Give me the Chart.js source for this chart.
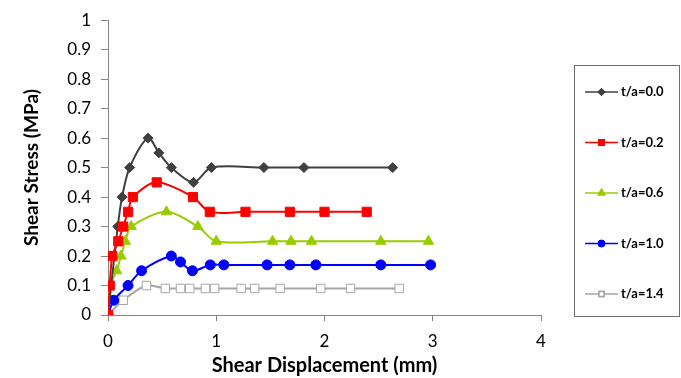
<!DOCTYPE html>
<html lang="en">
<head>
  <meta charset="UTF-8">
  <title>Shear Stress vs Shear Displacement</title>
  <script src="https://cdn.jsdelivr.net/npm/chart.js"></script>
  <style>
    html, body { margin: 0; padding: 0; background: #fff; }
    #wrap { width: 681px; height: 378px; }
  </style>
</head>
<body>
  <div id="wrap"><canvas id="shearChart" width="681" height="378"></canvas></div>

  <script>
    // series labels
    const seriesNames = ['t/a=0.0', 't/a=0.2', 't/a=0.6', 't/a=1.0', 't/a=1.4'];

    // shear displacement (mm) and shear stress (MPa)
    const disp00 = [0, 0.09, 0.13, 0.2, 0.37, 0.47, 0.585, 0.79, 0.955, 1.44, 1.81, 2.63];
    const stress00 = [0, 0.3, 0.4, 0.5, 0.6, 0.55, 0.5, 0.45, 0.5, 0.5, 0.5, 0.5];

    const disp02 = [0, 0.016, 0.04, 0.095, 0.14, 0.185, 0.23, 0.45, 0.785, 0.94, 1.27, 1.68, 2.0, 2.39];
    const stress02 = [0, 0.1, 0.2, 0.25, 0.3, 0.35, 0.4, 0.45, 0.4, 0.35, 0.35, 0.35, 0.35, 0.35];

    const disp06 = [0, 0.02, 0.08, 0.12, 0.16, 0.215, 0.54, 0.83, 1.0, 1.52, 1.69, 1.88, 2.52, 2.96];
    const stress06 = [0, 0.1, 0.15, 0.2, 0.25, 0.3, 0.35, 0.3, 0.25, 0.25, 0.25, 0.25, 0.25, 0.25];

    const disp10 = [0, 0.053, 0.185, 0.31, 0.585, 0.67, 0.78, 0.945, 1.07, 1.47, 1.68, 1.92, 2.52, 2.98];
    const stress10 = [0, 0.05, 0.1, 0.15, 0.2, 0.18, 0.15, 0.17, 0.17, 0.17, 0.17, 0.17, 0.17, 0.17];

    const disp14 = [0, 0.14, 0.355, 0.53, 0.67, 0.755, 0.9, 0.985, 1.23, 1.355, 1.59, 1.965, 2.24, 2.69];
    const stress14 = [0, 0.05, 0.1, 0.09, 0.09, 0.09, 0.09, 0.09, 0.09, 0.09, 0.09, 0.09, 0.09, 0.09];

    const xTicks = [0, 1, 2, 3, 4];
    const yTicks = [0, 0.1, 0.2, 0.3, 0.4, 0.5, 0.6, 0.7, 0.8, 0.9, 1];

    function toPoints(xs, ys) {
      return xs.map((x, i) => ({ x: x, y: ys[i] }));
    }

    const FONT = 'Lato, "Open Sans", sans-serif';
    const AXIS_GREY = '#868686';

    const styles = [
      { color: '#404040', fill: '#404040', point: 'rectRot', radius: 5 },
      { color: '#ff0000', fill: '#ff0000', point: 'rect', radius: 6.5 },
      { color: '#99cc00', fill: '#99cc00', point: 'triangle', radius: 6 },
      { color: '#0000ff', fill: '#0000ff', point: 'circle', radius: 5 },
      { color: '#a6a6a6', fill: '#ffffff', point: 'rect', radius: 6 }
    ];

    const allData = [
      toPoints(disp00, stress00),
      toPoints(disp02, stress02),
      toPoints(disp06, stress06),
      toPoints(disp10, stress10),
      toPoints(disp14, stress14)
    ];

    const datasets = allData.map((pts, i) => ({
      label: seriesNames[i],
      data: pts,
      showLine: true,
      borderColor: styles[i].color,
      backgroundColor: styles[i].fill,
      borderWidth: 2,
      tension: 0.3,
      pointStyle: styles[i].point,
      pointRadius: styles[i].radius,
      pointBorderColor: styles[i].color,
      pointBackgroundColor: styles[i].fill,
      pointBorderWidth: 1,
      order: i === 1 ? 0 : i + 1
    }));

    // legend drawn in a framed box on the right, line sample with marker in the middle
    const boxLegend = {
      id: 'boxLegend',
      afterDraw(chart) {
        const ctx = chart.ctx;
        ctx.save();
        ctx.strokeStyle = '#6e6e6e';
        ctx.lineWidth = 1;
        ctx.strokeRect(574.5, 65.5, 105, 251);
        ctx.font = 'bold 13px ' + FONT;
        ctx.textBaseline = 'middle';
        ctx.fillStyle = '#000';
        chart.data.datasets.forEach((ds, i) => {
          const y = 92 + i * 50.5;
          ctx.strokeStyle = ds.borderColor;
          ctx.lineWidth = 1.5;
          ctx.beginPath();
          ctx.moveTo(585, y);
          ctx.lineTo(618, y);
          ctx.stroke();
          Chart.helpers.drawPoint(ctx, {
            pointStyle: ds.pointStyle,
            radius: ds.pointRadius * 0.6,
            borderWidth: 1,
            rotation: 0
          }, 601.5, y);
          ctx.fillStyle = ds.pointBackgroundColor;
          ctx.strokeStyle = ds.pointBorderColor;
          ctx.fill();
          ctx.stroke();
          ctx.fillStyle = '#000';
          ctx.fillText(ds.label, 621, y);
        });
        ctx.restore();
      }
    };

    const ctx = document.getElementById('shearChart').getContext('2d');
    const shearChart = new Chart(ctx, {
      type: 'scatter',
      data: { datasets: datasets },
      options: {
        responsive: false,
        animation: false,
        layout: { padding: { left: 0, top: 15, right: 140, bottom: 0 } },
        plugins: {
          legend: { display: false },
          tooltip: { enabled: false }
        },
        scales: {
          x: {
            type: 'linear',
            min: 0,
            max: 4,
            afterBuildTicks: (scale) => { scale.ticks = xTicks.map(v => ({ value: v })); },
            afterFit: (scale) => { scale.height = 63; },
            grid: {
              display: true,
              drawOnChartArea: false,
              drawTicks: true,
              tickLength: 6,
              color: AXIS_GREY
            },
            border: { color: AXIS_GREY, width: 1 },
            ticks: {
              color: '#000',
              font: { family: FONT, size: 17 },
              padding: 10,
              maxRotation: 0,
              callback: (v) => String(v)
            },
            title: {
              display: true,
              text: 'Shear Displacement (mm)',
              color: '#000',
              font: { family: FONT, size: 20, weight: 'bold' },
              padding: { top: 0, bottom: 0 }
            }
          },
          y: {
            type: 'linear',
            min: 0,
            max: 1,
            afterBuildTicks: (scale) => { scale.ticks = yTicks.map(v => ({ value: v })); },
            afterFit: (scale) => { scale.width = 108; },
            grid: {
              display: true,
              drawOnChartArea: false,
              drawTicks: true,
              tickLength: 7,
              color: AXIS_GREY
            },
            border: { color: AXIS_GREY, width: 1 },
            ticks: {
              color: '#000',
              font: { family: FONT, size: 17 },
              padding: 10,
              callback: (v) => String(v)
            },
            title: {
              display: true,
              text: 'Shear Stress (MPa)',
              color: '#000',
              font: { family: FONT, size: 19, weight: 'bold' },
              padding: { top: 20, bottom: 8 }
            }
          }
        }
      },
      plugins: [boxLegend]
    });
  </script>
</body>
</html>
